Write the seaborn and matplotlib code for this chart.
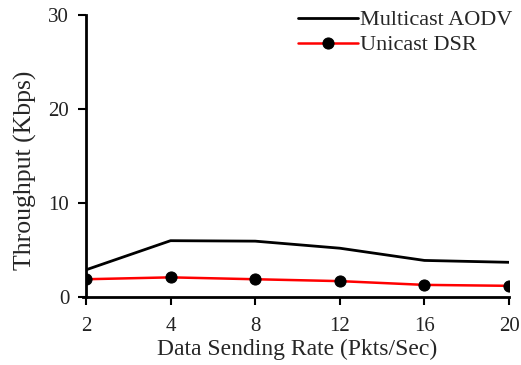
import matplotlib
matplotlib.use("Agg")
import matplotlib.pyplot as plt
import seaborn as sns
import pandas as pd

# -----------------------------
# Data
# -----------------------------
rates = ["2", "4", "8", "12", "16", "20"]
multicast_aodv = [2.9, 6.0, 5.95, 5.2, 3.9, 3.7]
unicast_dsr = [1.9, 2.1, 1.9, 1.7, 1.3, 1.2]

df = pd.DataFrame({
    "pos": list(range(len(rates))),
    "Multicast AODV": multicast_aodv,
    "Unicast DSR": unicast_dsr,
})

# -----------------------------
# Plot
# -----------------------------
sns.set_style("ticks")
plt.rcParams["font.family"] = ["Liberation Serif", "DejaVu Serif"]

fig = plt.figure(figsize=(5.21, 3.65), dpi=100)
ax = fig.add_axes([0.165, 0.186, 0.812, 0.773])

sns.lineplot(data=df, x="pos", y="Multicast AODV", ax=ax, color="black",
             linewidth=2, label="Multicast AODV")
sns.lineplot(data=df, x="pos", y="Unicast DSR", ax=ax, color="red",
             linewidth=1.8, marker="o", markersize=8,
             markerfacecolor="black", markeredgecolor="black",
             label="Unicast DSR")

ax.set_xlim(0, len(rates) - 1)
ax.set_ylim(0, 30)
ax.set_xticks(range(len(rates)))
ax.set_xticklabels(rates)
ax.set_yticks([0, 10, 20, 30])
ax.tick_params(labelsize=15, length=6, width=1.5, colors="black")
ax.tick_params(axis="x", pad=8)
ax.tick_params(axis="y", pad=6)
for lab in ax.get_xticklabels() + ax.get_yticklabels():
    lab.set_color("#222222")

ax.set_xlabel("Data Sending Rate (Pkts/Sec)", fontsize=17, labelpad=2)
ax.set_ylabel("Throughput (Kbps)", fontsize=18.5)
ax.yaxis.set_label_coords(-0.115, 0.45)

for side in ["top", "right"]:
    ax.spines[side].set_visible(False)
for side in ["left", "bottom"]:
    ax.spines[side].set_linewidth(2)
    ax.spines[side].set_color("black")
ax.spines["bottom"].set_bounds(-0.03, len(rates) - 1)

ax.legend(loc="upper right", frameon=False, fontsize=16, handlelength=2.7,
          handletextpad=0.1, labelspacing=0.2, borderaxespad=0,
          bbox_to_anchor=(1.03, 1.05))

fig.savefig("out.png", dpi=100)
